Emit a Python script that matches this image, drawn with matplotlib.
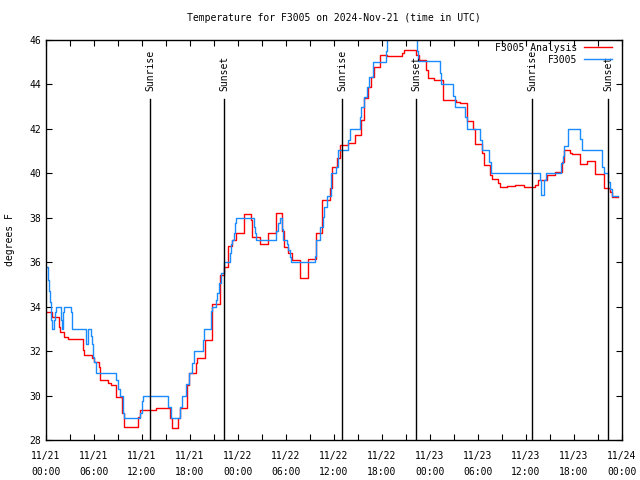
import matplotlib
matplotlib.use("Agg")
import matplotlib.pyplot as plt

# -------------------------------------------------
# Data: hours since 2024-11-21 00:00 UTC, degrees F
# -------------------------------------------------

obs_hours = [0.0, 0.2, 0.35, 0.55, 0.65, 0.8, 1.05, 1.15, 1.3, 1.85, 1.95, 2.15,
             2.3, 3.1, 3.2, 3.3, 5.0, 5.25, 5.6, 5.75, 5.9, 6.05, 6.2, 8.8,
             8.95, 9.25, 9.6, 9.75, 11.75, 11.95, 12.1, 15.3, 15.6, 16.75, 17.0, 17.45,
             17.85, 18.3, 18.5, 19.6, 19.8, 20.6, 20.8, 21.3, 21.4, 21.6, 21.9, 22.2,
             23.0, 23.15, 23.3, 23.55, 23.65, 23.8, 26.0, 26.15, 26.3, 28.8, 29.0, 29.2,
             29.5, 29.65, 30.1, 30.3, 30.5, 30.6, 33.6, 33.7, 33.8, 34.3, 34.6, 34.75,
             35.1, 35.6, 36.3, 36.5, 37.7, 38.0, 39.2, 39.4, 39.8, 40.1, 40.4, 40.9,
             42.5, 42.6, 46.4, 46.5, 49.2, 49.4, 50.9, 51.1, 52.4, 52.6, 54.2, 54.5,
             55.4, 55.6, 61.7, 61.9, 62.2, 62.5, 64.4, 64.6, 64.8, 65.2, 66.7, 67.0,
             69.5, 69.7, 70.3, 70.5, 70.7, 71.5]
obs_temp = [35.8, 35.2, 34.7, 34.2, 33.4, 33.0, 33.4, 33.75, 34.0, 33.4, 33.0, 33.75,
            34.0, 33.75, 33.3, 33.0, 32.3, 33.0, 32.7, 32.3, 31.75, 31.5, 31.0, 30.7,
            30.3, 30.0, 29.2, 29.0, 29.2, 29.75, 30.0, 29.5, 29.0, 29.5, 30.0, 30.5,
            31.0, 31.45, 32.0, 32.5, 33.0, 33.8, 34.0, 34.3, 34.6, 35.05, 35.5, 36.0,
            36.4, 36.8, 37.0, 37.3, 37.75, 38.0, 37.6, 37.3, 37.0, 37.4, 37.75, 38.0,
            37.5, 37.0, 36.8, 36.55, 36.25, 36.0, 36.3, 36.8, 37.0, 37.6, 38.05, 38.5,
            39.0, 40.0, 40.3, 41.05, 41.5, 42.0, 42.55, 43.0, 43.45, 43.9, 44.35, 45.03,
            45.5, 47.0, 45.5, 45.07, 44.5, 44.0, 43.5, 43.0, 42.55, 42.0, 41.5, 41.05,
            40.5, 40.0, 39.7, 39.03, 39.7, 40.0, 40.45, 40.8, 41.25, 42.0, 41.55, 41.05,
            40.3, 40.0, 39.6, 39.3, 39.0, 39.0]

ana_hours = [0.0, 0.8, 1.6, 1.8, 2.3, 2.7, 4.6, 4.8, 5.8, 6.0, 6.6, 6.75,
             7.7, 8.1, 8.8, 9.5, 9.75, 11.55, 11.8, 13.8, 15.5, 15.8, 16.5, 16.8,
             17.6, 17.9, 18.75, 18.9, 19.9, 20.7, 20.8, 21.75, 21.8, 22.2, 22.7, 23.3,
             23.8, 24.8, 25.6, 25.8, 26.75, 27.8, 28.75, 29.5, 29.8, 30.2, 30.7, 31.8,
             32.8, 33.8, 34.5, 35.5, 35.8, 36.4, 36.7, 37.7, 38.6, 39.4, 39.7, 40.3,
             40.6, 41.0, 41.7, 42.6, 44.5, 44.75, 46.3, 46.6, 47.5, 47.8, 48.5, 49.6,
             51.25, 51.7, 52.6, 53.4, 53.6, 54.5, 54.7, 55.5, 55.7, 56.5, 56.75, 57.6,
             58.6, 59.7, 61.1, 61.5, 62.6, 63.6, 64.5, 64.7, 65.5, 65.7, 66.7, 67.6,
             68.6, 69.7, 70.5, 70.8, 71.5]
ana_temp = [33.78, 33.55, 33.1, 32.88, 32.65, 32.55, 32.05, 31.83, 31.68, 31.52, 31.3, 30.7,
            30.55, 30.48, 29.95, 29.2, 28.6, 29.05, 29.35, 29.42, 29.0, 28.52, 29.0, 29.42,
            30.48, 31.0, 31.45, 31.68, 32.5, 33.03, 34.12, 34.82, 35.42, 35.8, 36.73, 37.0,
            37.3, 38.17, 37.9, 37.12, 36.82, 37.3, 38.2, 37.4, 36.7, 36.4, 36.1, 35.28,
            36.13, 37.3, 38.8, 39.33, 40.3, 40.68, 41.28, 41.35, 41.72, 42.4, 43.38, 43.9,
            44.35, 44.8, 45.33, 45.28, 45.4, 45.55, 45.33, 45.08, 44.65, 44.28, 44.2, 43.3,
            43.23, 43.15, 42.35, 41.98, 41.3, 40.9, 40.38, 39.93, 39.73, 39.55, 39.4, 39.45,
            39.48, 39.4, 39.48, 39.7, 39.93, 40.08, 40.5, 41.05, 40.93, 40.85, 40.42, 40.57,
            39.97, 39.33, 39.18, 38.95, 38.95]

sun_hours = [13.0, 22.25, 37.0, 46.25, 60.75, 70.25]
sun_labels = ["Sunrise", "Sunset", "Sunrise", "Sunset", "Sunrise", "Sunset"]

tick_hours = [0, 6, 12, 18, 24, 30, 36, 42, 48, 54, 60, 66, 72]
tick_labels = ["11/21\n00:00", "11/21\n06:00", "11/21\n12:00", "11/21\n18:00",
               "11/22\n00:00", "11/22\n06:00", "11/22\n12:00", "11/22\n18:00",
               "11/23\n00:00", "11/23\n06:00", "11/23\n12:00", "11/23\n18:00",
               "11/24\n00:00"]

# -------------------------------------------------
# Plot
# -------------------------------------------------

plt.rcParams["font.family"] = "DejaVu Sans Mono"
plt.rcParams["font.size"] = 7

fig = plt.figure(figsize=(6.4, 4.8), dpi=100)
ax = fig.add_axes([46 / 640, 40 / 480, 576 / 640, 400 / 480])

ax.plot(ana_hours, ana_temp, drawstyle="steps-post",
        color="#ff0000", linewidth=1.0, label="F3005 Analysis")
ax.plot(obs_hours, obs_temp, drawstyle="steps-post",
        color="#1a8cff", linewidth=1.0, label="F3005")

for h, name in zip(sun_hours, sun_labels):
    ax.plot([h, h], [28, 43.35], color="black", linewidth=1.0)
    ax.text(h, 43.7, name, rotation=90, ha="center", va="bottom")

ax.set_xlim(0, 72)
ax.set_ylim(28, 46)
ax.set_xticks(tick_hours)
ax.set_xticklabels(tick_labels, linespacing=1.7)
ax.set_xticks(range(3, 72, 6), minor=True)
ax.set_yticks(range(28, 47, 2))

ax.tick_params(which="both", direction="in", top=True, right=True,
               length=4.5, width=0.8)
ax.tick_params(axis="x", pad=8)
for s in ax.spines.values():
    s.set_linewidth(1.0)

ax.set_title("Temperature for F3005 on 2024-Nov-21 (time in UTC)",
             fontsize=7, pad=14)
ax.set_ylabel("degrees F", labelpad=10)

ax.legend(loc="upper right", bbox_to_anchor=(0.983, 0.993), frameon=False,
          markerfirst=False, handlelength=2.9, handletextpad=0.7,
          borderpad=0, borderaxespad=0, labelspacing=0.2)

plt.savefig("out.png", dpi=100)
plt.close()
